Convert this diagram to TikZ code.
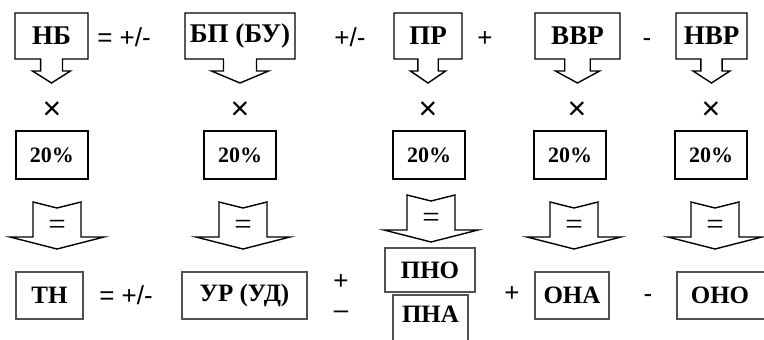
\documentclass[tikz,border=0pt]{standalone}
\usepackage{fontspec}
\setmainfont{Liberation Serif}
\setsansfont{Liberation Sans}
\usetikzlibrary{calc}
\definecolor{rim}{RGB}{88,80,74}

\tikzset{
  lbl/.style={font=\fontsize{27}{30}\selectfont\bfseries},
  lblb/.style={font=\fontsize{25}{28}\selectfont\bfseries},
  op/.style={font=\sffamily\fontsize{26}{28}\selectfont, anchor=base},
  pct/.style={draw, line width=1.2pt, minimum width=72pt, minimum height=48pt,
    font=\fontsize{22}{24}\selectfont\bfseries},
  res/.style={draw=rim, line width=1.2pt, minimum height=47pt, lblb},
  callout/.style={draw, line width=1.4pt, line join=miter}
}

\begin{document}
\begin{tikzpicture}[x=1pt, y=-1pt]
\useasboundingbox (0,0) rectangle (764,340);
% top row: boxes with a down arrow
\foreach \n/\l/\r/\t in {nb/15/88/НБ, bp/185/295/{БП (БУ)}, pr/394/462/ПР,
    vvr/535/620/ВВР, nvr/676/747/НВР} {
  \pgfmathsetmacro\c{(\l+\r)/2}
  \pgfmathsetmacro\s{0.15*(\r-\l)}
  \pgfmathsetmacro\w{0.26*(\r-\l)}
  \draw[callout] (\l,13) -- (\r,13) -- (\r,59) -- (\c+\s,59) -- (\c+\s,71)
    -- (\c+\w,71) -- (\c,83) -- (\c-\w,71) -- (\c-\s,71) -- (\c-\s,59)
    -- (\l,59) -- cycle;
  \node[lbl] (\n) at (\c,36) {\t};
}
\foreach \n/\x/\t in {opa/124/{= +/-}, opb/350/{+/-}, opc/485/{+}, opd/647/{-}}
  \node[op] (\n) at (\x,46) {\t};

% times and 20%
\foreach \n/\x in {1/52, 2/240, 3/428, 4/577, 5/711}
  \node[op, font=\sffamily\fontsize{32}{34}\selectfont] (x\n) at (\x,119) {×};
\foreach \n/\x in {1/52, 2/240, 3/429, 4/570, 5/711}
  \node[pct] (p\n) at (\x,155) {20\%};

% equal arrows
\foreach \n/\x/\y in {1/57/202, 2/243/202, 3/431/195, 4/574/202, 5/715/202} {
  \draw[callout] (\x-24,\y) -- (\x,\y+6) -- (\x+24,\y) -- (\x+24,\y+35)
    -- (\x+47,\y+35) -- (\x,\y+47) -- (\x-47,\y+35) -- (\x-24,\y+35) -- cycle;
  \node[font=\fontsize{31}{32}\selectfont] (e\n) at (\x,\y+25) {=};
}

% bottom row
\node[res, minimum width=67pt] (tn) at (49.5,295.5) {ТН};
\node[res, minimum width=125pt] (ur) at (244.5,295.5) {УР (УД)};
\node[res, minimum width=90pt, minimum height=44pt] (pno) at (430,270) {ПНО};
\node[lblb] (pna) at (430.5,314) {ПНА};
\draw[draw=rim, line width=1.2pt] (393,345) -- (393,295) -- (468,295) -- (468,345);
\node[res, minimum width=74pt] (ona) at (572,295.5) {ОНА};
\node[lblb] (ono) at (720,295) {ОНО};
\draw[draw=rim, line width=1.2pt] (770,272) -- (677,272) -- (677,319) -- (770,319);
\foreach \n/\x/\y/\t in {ba/126/304/{= +/-}, bb/341/289/{+}, bc/341/318/{–},
    bd/512/301/{+}, be/648/302/{-}}
  \node[op] (\n) at (\x,\y) {\t};
\end{tikzpicture}
\end{document}
